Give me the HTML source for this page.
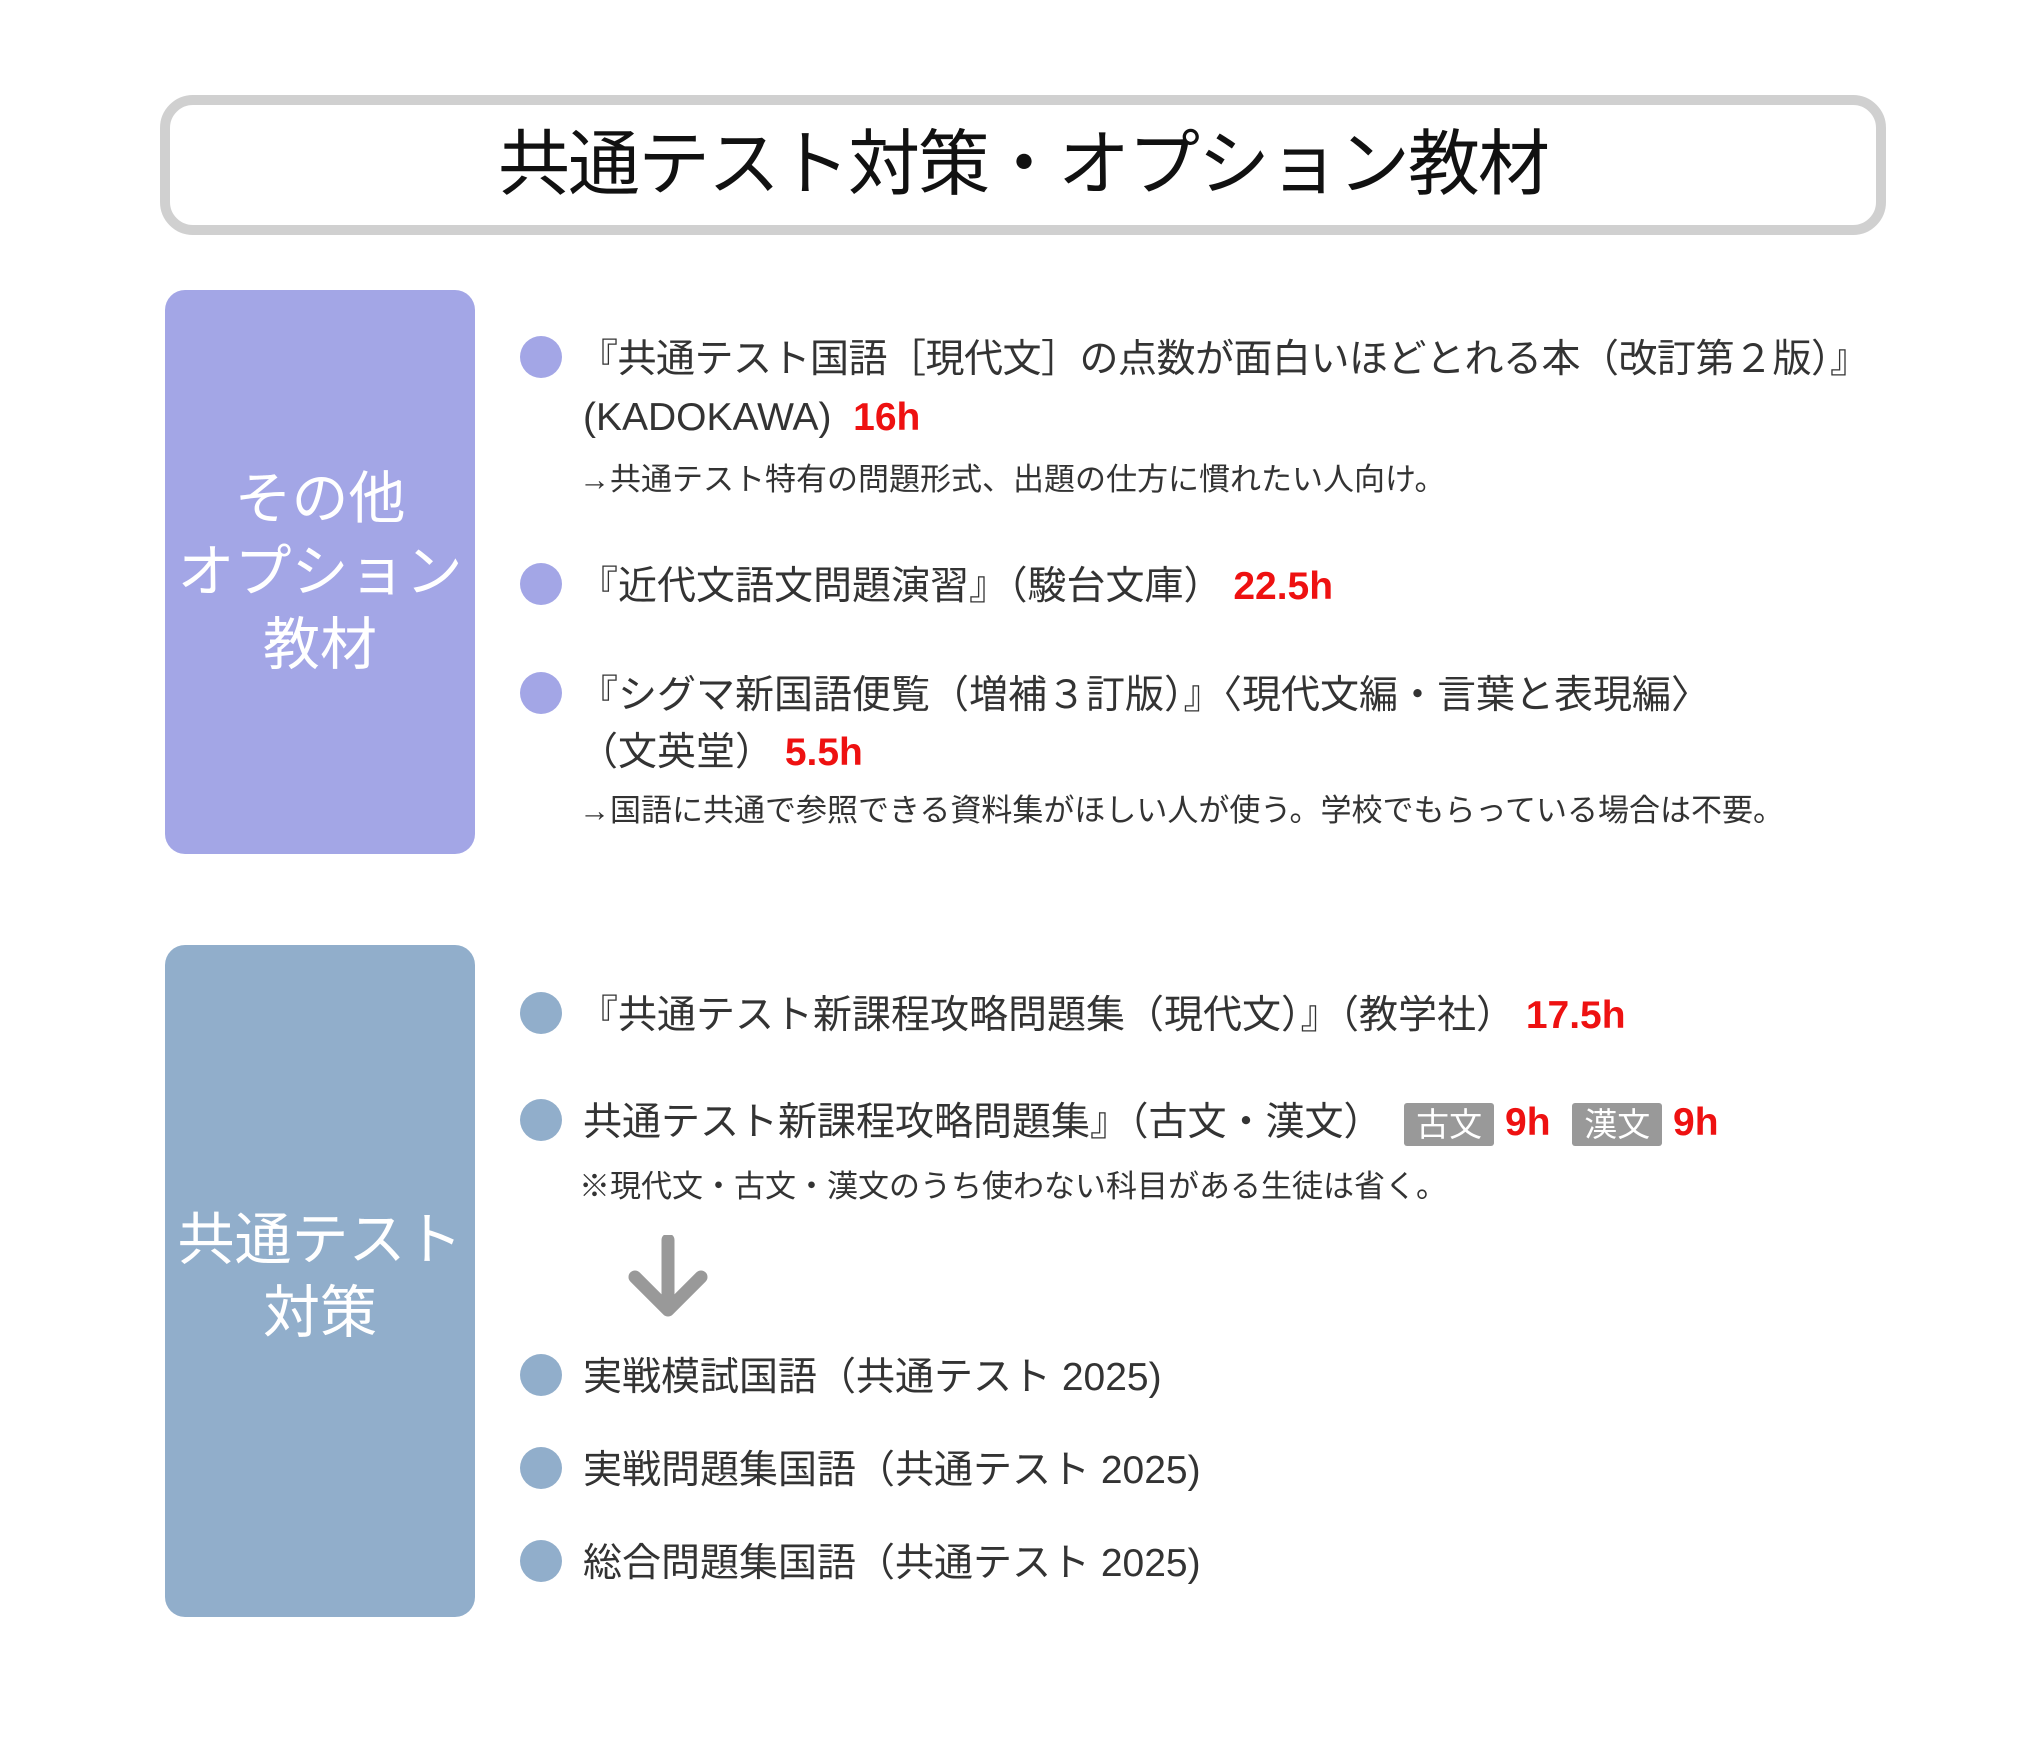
<!DOCTYPE html>
<html><head><meta charset="utf-8"><style>
body{margin:0;width:2040px;height:1751px;background:#fff;position:relative;overflow:hidden;font-family:"Liberation Sans","Noto Sans CJK JP",sans-serif;color:#333}
.a{position:absolute;white-space:nowrap}
.t{font-size:39px;line-height:50px}
.n{font-size:31px;line-height:40px}
.r{color:#ee1111;font-weight:bold}
.d{position:absolute;width:42px;height:42px;border-radius:50%}
.p{background:#a3a6e6}.b{background:#91aecb}
.g{display:inline-block;background:#999;color:#fff;font-size:33px;line-height:43px;padding:0 12px;border-radius:3px;vertical-align:middle}
.side{position:absolute;left:165px;width:310px;border-radius:20px;color:#fff;font-size:57px;line-height:73px;text-align:center;display:flex;align-items:center;justify-content:center}
</style></head><body>
<div class="a" style="left:160px;top:95px;width:1706px;height:120px;border:10px solid #d0d0d0;border-radius:33px;text-align:center;font-size:72px;line-height:120px;color:#111;letter-spacing:-2px">共通テスト対策・オプション教材</div>

<div class="side p" style="top:290px;height:564px"><div>その他<br>オプション<br>教材</div></div>
<div class="side b" style="top:945px;height:672px"><div style="margin-top:-8px">共通テスト<br>対策</div></div>

<div class="d p" style="left:520px;top:336px"></div>
<div class="a t" style="left:579px;top:335px;letter-spacing:-0.5px">『共通テスト国語［現代文］の点数が面白いほどとれる本（改訂第２版）』</div>
<div class="a t" style="left:583px;top:393px">(KADOKAWA)&nbsp; <span class="r">16h</span></div>
<div class="a n" style="left:579px;top:460px">→共通テスト特有の問題形式、出題の仕方に慣れたい人向け。</div>

<div class="d p" style="left:520px;top:563px"></div>
<div class="a t" style="left:579px;top:562px">『近代文語文問題演習』（駿台文庫）&nbsp;<span class="r">22.5h</span></div>

<div class="d p" style="left:520px;top:672px"></div>
<div class="a t" style="left:579px;top:671px">『シグマ新国語便覧（増補３訂版）』〈現代文編・言葉と表現編〉</div>
<div class="a t" style="left:579px;top:728px">（文英堂）&nbsp;<span class="r">5.5h</span></div>
<div class="a n" style="left:579px;top:791px">→国語に共通で参照できる資料集がほしい人が使う。学校でもらっている場合は不要。</div>

<div class="d b" style="left:520px;top:992px"></div>
<div class="a t" style="left:579px;top:991px">『共通テスト新課程攻略問題集（現代文）』（教学社）&nbsp;<span class="r">17.5h</span></div>

<div class="d b" style="left:520px;top:1099px"></div>
<div class="a t" style="left:583px;top:1098px">共通テスト新課程攻略問題集』（古文・漢文）&nbsp; <span class="g">古文</span> <span class="r">9h</span>&nbsp; <span class="g">漢文</span> <span class="r">9h</span></div>
<div class="a n" style="left:579px;top:1167px">※現代文・古文・漢文のうち使わない科目がある生徒は省く。</div>

<svg class="a" style="left:625px;top:1235px" width="86" height="85" viewBox="0 0 86 85"><path d="M43 5 V72 M10 42 L43 75 L76 42" fill="none" stroke="#999" stroke-width="13" stroke-linecap="round" stroke-linejoin="round"/></svg>

<div class="d b" style="left:520px;top:1354px"></div>
<div class="a t" style="left:583px;top:1353px">実戦模試国語（共通テスト 2025)</div>
<div class="d b" style="left:520px;top:1447px"></div>
<div class="a t" style="left:583px;top:1446px">実戦問題集国語（共通テスト 2025)</div>
<div class="d b" style="left:520px;top:1540px"></div>
<div class="a t" style="left:583px;top:1539px">総合問題集国語（共通テスト 2025)</div>
</body></html>
